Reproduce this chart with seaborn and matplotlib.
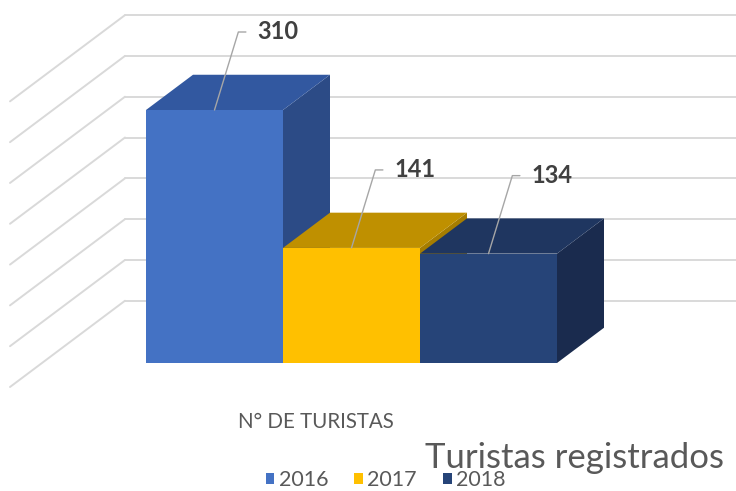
import pandas as pd
import matplotlib.pyplot as plt
from matplotlib.patches import Polygon
import seaborn as sns

# Dados do gráfico
categorias = ['N° DE TURISTAS']
anos = ['2016', '2017', '2018']
turistas = [310, 141, 134]
valores_grade = [0, 50, 100, 150, 200, 250, 300, 350]

cores_frente = ['#4472C4', '#FFC000', '#264478']
cores_topo = ['#3258A0', '#BF9000', '#1F3660']
cores_lado = ['#2C4B86', '#A67D00', '#1A2B4E']

df = pd.DataFrame({'Categoria': categorias * len(anos), 'Ano': anos, 'Turistas': turistas})

sns.set_style('white')
plt.rcParams['font.family'] = ['Lato', 'DejaVu Sans']

fig = plt.figure(figsize=(7.36, 4.91), dpi=100)
ax = fig.add_axes([0, 0, 1, 1])

barplot = sns.barplot(data=df, x='Categoria', y='Turistas', hue='Ano',
                      palette=cores_frente, saturation=1, width=0.8, linewidth=0, ax=ax)

# escala em pixeis (efeito 3D oblíquo)
PX_X = 411 / 0.8
PX_Y = 253 / 310
ax.set_xlim(-351.5 / PX_X, 384.5 / PX_X)
ax.set_ylim(-128 / PX_Y, 363 / PX_Y)
ax.set_axis_off()


def prof(z):
    # deslocamento de profundidade (px) convertido para unidades de dados
    return z / PX_X, 0.75 * z / PX_Y


# grelha da parede do fundo e da parede lateral
bx, by = prof(83)
fx, fy = prof(-32)
x_parede = -0.4 - 104 / PX_X
for v in valores_grade:
    ax.plot([x_parede + bx, 2], [v + by, v + by], color='#d9d9d9', lw=1.4, zorder=0)
    ax.plot([x_parede + fx, x_parede + bx], [v + fy, v + by], color='#d9d9d9', lw=1.4, zorder=0)

# faces de topo e lateral de cada barra
dx, dy = prof(47)
for i, barra in enumerate(ax.patches[:len(turistas)]):
    x0 = barra.get_x()
    x1 = x0 + barra.get_width()
    h = barra.get_height()
    barra.set_zorder(3 + 3 * i)
    lado = Polygon([(x1, 0), (x1 + dx, dy), (x1 + dx, h + dy), (x1, h)],
                   closed=True, facecolor=cores_lado[i], edgecolor='none', zorder=2 + 3 * i)
    topo = Polygon([(x0, h), (x1, h), (x1 + dx, h + dy), (x0 + dx, h + dy)],
                   closed=True, facecolor=cores_topo[i], edgecolor='none', zorder=2 + 3 * i)
    ax.add_patch(lado)
    ax.add_patch(topo)

    # rótulo com linha de chamada
    ax.annotate(f'{turistas[i]}', xy=((x0 + x1) / 2, h), xytext=(43, 78),
                textcoords='offset pixels', ha='left', va='center',
                fontsize=17, fontweight='bold', color='#404040', zorder=30,
                arrowprops=dict(arrowstyle='-', color='#a6a6a6', lw=1,
                                connectionstyle='angle,angleA=0,angleB=73,rad=0',
                                relpos=(0, 0.5), shrinkA=6, shrinkB=0))

# rótulo da categoria (frente do chão)
ax.text(prof(-36)[0], -80, categorias[0], ha='center', va='baseline',
        fontsize=14.8, color='#595959')

# título em baixo à direita
fig.text(425 / 736, 1 - 468 / 491, 'Turistas registrados', ha='left', va='baseline',
         fontsize=25, color='#595959')

sns.move_legend(ax, loc='center', bbox_to_anchor=(0.524, 0.022), bbox_transform=fig.transFigure,
                ncol=3, frameon=False, title=None, fontsize=15.5, labelcolor='#595959',
                handlelength=0.4, handleheight=0.4, handletextpad=0.2,
                columnspacing=1.22, borderpad=0)

plt.savefig('out.png', dpi=100)
plt.close()
